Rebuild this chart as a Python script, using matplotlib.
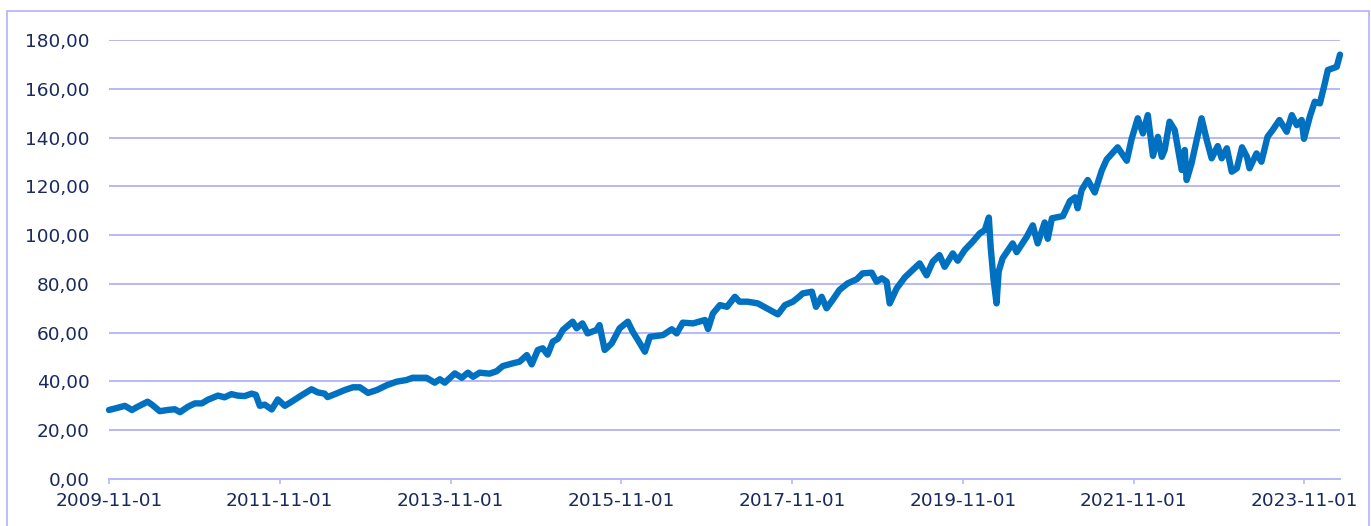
import matplotlib
matplotlib.use("Agg")
import matplotlib.pyplot as plt
import matplotlib.dates as mdates
from matplotlib.patches import Rectangle
from matplotlib.ticker import FuncFormatter, FixedLocator
import pandas as pd

dates = [
    "2009-11-01", "2009-11-26", "2010-01-08", "2010-02-07", "2010-03-03", "2010-04-15",
    "2010-05-06", "2010-06-06", "2010-07-10", "2010-08-09", "2010-09-01", "2010-10-04",
    "2010-11-03", "2010-12-03", "2010-12-29", "2011-02-10", "2011-03-10", "2011-04-09",
    "2011-05-05", "2011-06-04", "2011-07-04", "2011-07-22", "2011-08-08", "2011-08-29",
    "2011-09-28", "2011-10-24", "2011-11-23", "2011-12-22", "2012-02-04", "2012-03-16",
    "2012-04-12", "2012-05-11", "2012-05-24", "2012-07-02", "2012-08-06", "2012-09-09",
    "2012-10-09", "2012-11-13", "2012-12-21", "2013-02-02", "2013-03-15", "2013-04-27",
    "2013-05-22", "2013-07-21", "2013-08-25", "2013-09-16", "2013-10-07", "2013-11-19",
    "2013-12-19", "2014-01-14", "2014-02-05", "2014-03-05", "2014-04-17", "2014-05-17",
    "2014-06-12", "2014-07-24", "2014-08-23", "2014-09-23", "2014-10-14", "2014-11-09",
    "2014-11-30", "2014-12-21", "2015-01-12", "2015-02-03", "2015-02-24", "2015-04-07",
    "2015-04-24", "2015-05-19", "2015-06-10", "2015-07-18", "2015-07-31", "2015-08-22",
    "2015-09-21", "2015-10-25", "2015-11-29", "2015-12-20", "2016-01-11", "2016-02-10",
    "2016-03-02", "2016-04-27", "2016-06-04", "2016-06-25", "2016-07-21", "2016-09-03",
    "2016-10-24", "2016-11-06", "2016-11-27", "2016-12-27", "2017-01-26", "2017-03-01",
    "2017-03-21", "2017-04-25", "2017-06-07", "2017-07-15", "2017-09-01", "2017-10-01",
    "2017-11-04", "2017-11-30", "2017-12-16", "2018-01-24", "2018-02-11", "2018-03-07",
    "2018-03-28", "2018-04-23", "2018-05-22", "2018-06-26", "2018-08-04", "2018-08-29",
    "2018-10-07", "2018-10-28", "2018-11-19", "2018-12-10", "2018-12-23", "2019-01-22",
    "2019-02-26", "2019-03-31", "2019-04-30", "2019-05-30", "2019-06-25", "2019-07-24",
    "2019-08-15", "2019-09-19", "2019-10-10", "2019-11-09", "2019-12-13", "2020-01-12",
    "2020-02-03", "2020-02-20", "2020-02-28", "2020-03-11", "2020-03-24", "2020-04-02",
    "2020-04-19", "2020-06-01", "2020-06-18", "2020-07-31", "2020-08-26", "2020-09-16",
    "2020-10-16", "2020-10-29", "2020-11-16", "2021-01-02", "2021-02-01", "2021-02-23",
    "2021-03-06", "2021-03-23", "2021-04-18", "2021-05-18", "2021-06-17", "2021-07-08",
    "2021-08-24", "2021-10-02", "2021-10-23", "2021-11-18", "2021-12-10", "2021-12-31",
    "2022-01-22", "2022-02-12", "2022-03-01", "2022-03-13", "2022-04-03", "2022-04-25",
    "2022-05-25", "2022-06-07", "2022-06-15", "2022-07-06", "2022-07-28", "2022-08-18",
    "2022-09-09", "2022-09-30", "2022-10-26", "2022-11-12", "2022-12-04", "2022-12-25",
    "2023-01-16", "2023-02-07", "2023-02-28", "2023-03-11", "2023-04-10", "2023-05-01",
    "2023-05-27", "2023-06-18", "2023-07-17", "2023-08-17", "2023-09-08", "2023-09-29",
    "2023-10-20", "2023-10-30", "2023-11-24", "2023-12-15", "2024-01-06", "2024-01-27",
    "2024-02-09", "2024-03-01", "2024-03-18", "2024-04-01",
]

values = [
    28.3, 28.9, 30.0, 28.3, 29.6, 31.7,
    30.3, 27.8, 28.3, 28.6, 27.4, 29.6,
    31.0, 31.0, 32.5, 34.2, 33.5, 34.8,
    34.2, 34.0, 35.0, 34.5, 30.0, 30.5,
    28.5, 32.6, 30.0, 31.7, 34.4, 36.8,
    35.5, 35.0, 33.6, 35.1, 36.5, 37.6,
    37.6, 35.3, 36.5, 38.5, 39.9, 40.6,
    41.5, 41.5, 39.5, 40.9, 39.5, 43.3,
    41.5, 43.6, 41.9, 43.6, 43.2, 44.2,
    46.3, 47.4, 48.1, 50.8, 47.0, 52.9,
    53.6, 51.0, 56.3, 57.5, 61.1, 64.5,
    61.8, 63.8, 59.7, 61.1, 63.1, 52.9,
    55.6, 61.8, 64.5, 60.4, 57.0, 52.2,
    58.3, 59.0, 61.4, 59.7, 64.1, 63.8,
    65.2, 61.5, 67.9, 71.3, 70.6, 74.7,
    72.7, 72.7, 72.0, 70.0, 67.5, 71.3,
    72.7, 74.7, 76.1, 76.8, 70.6, 74.7,
    70.0, 73.4, 77.5, 80.2, 81.9, 84.3,
    84.6, 80.9, 82.3, 80.9, 72.0, 78.2,
    82.7, 85.7, 88.4, 83.5, 89.1, 91.8,
    87.0, 92.5, 89.5, 93.9, 97.3, 100.7,
    102.1, 107.2, 95.0, 82.0, 72.0, 85.0,
    90.5, 96.6, 93.0, 99.3, 104.0, 96.6,
    105.2, 98.5, 106.9, 107.8, 114.0, 115.5,
    111.0, 118.5, 122.6, 117.5, 126.5, 131.0,
    136.0, 130.5, 139.5, 147.9, 141.7, 149.2,
    132.5, 140.3, 132.1, 134.9, 146.5, 143.1,
    126.7, 134.9, 122.6, 129.4, 139.0, 147.9,
    139.0, 131.5, 136.5, 131.5, 135.6, 126.0,
    127.4, 136.0, 132.1, 127.4, 133.5, 130.1,
    140.3, 143.1, 147.2, 142.4, 149.2, 145.1,
    147.2, 139.5, 148.6, 154.7, 154.0, 162.2,
    167.7, 168.4, 169.0, 174.0,
]

x_tick_labels = ["2009-11-01", "2011-11-01", "2013-11-01", "2015-11-01",
                 "2017-11-01", "2019-11-01", "2021-11-01", "2023-11-01"]
y_ticks = [0, 20, 40, 60, 80, 100, 120, 140, 160, 180]

LINE = "#0070C0"
GRID = "#b8b8f8"
TEXT = "#1a2a5e"

fig = plt.figure(figsize=(13.71, 5.26), dpi=100)
fig.patch.set_facecolor("white")
fig.patches.append(Rectangle((7 / 1371, -0.02), (1369 - 7) / 1371, 1 - 11 / 526 + 0.02,
                             transform=fig.transFigure, fill=False,
                             edgecolor=GRID, linewidth=1.3))

ax = fig.add_axes([109 / 1371, 1 - 479 / 526, (1340 - 109) / 1371, (479 - 40) / 526])
x = pd.to_datetime(dates)
ax.plot(x, values, color=LINE, linewidth=4.6, solid_joinstyle="round",
        solid_capstyle="round", clip_on=False, zorder=3)

ax.set_ylim(0, 180)
ax.set_xlim(pd.Timestamp("2009-11-01"), pd.Timestamp("2024-04-01"))
ax.yaxis.set_major_locator(FixedLocator(y_ticks))
ax.yaxis.set_major_formatter(FuncFormatter(lambda v, p: f"{v:.2f}".replace(".", ",")))
ax.set_xticks(pd.to_datetime(x_tick_labels))
ax.set_xticklabels(x_tick_labels)

ax.grid(axis="y", color=GRID, linewidth=1.4)
ax.set_axisbelow(True)
for s in ["left", "right", "top"]:
    ax.spines[s].set_visible(False)
ax.spines["bottom"].set_color(GRID)
ax.spines["bottom"].set_linewidth(1.4)
ax.tick_params(axis="y", length=0, pad=14, labelsize=13.3, labelcolor=TEXT)
ax.tick_params(axis="x", length=3.5, width=1.2, color=GRID, pad=6, labelsize=13.3,
               labelcolor=TEXT)

fig.savefig("out.png", dpi=100)
